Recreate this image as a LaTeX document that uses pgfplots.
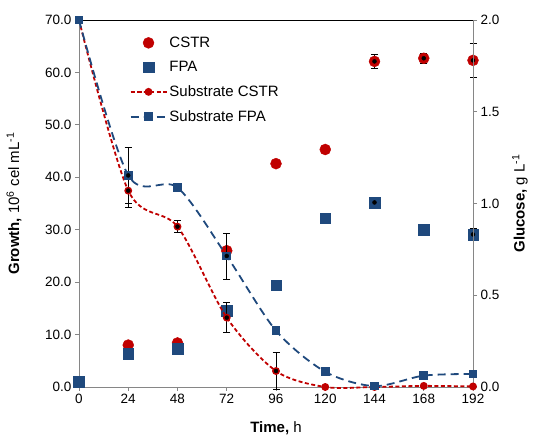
\documentclass[border=0pt]{standalone}
\usepackage{fontspec}
\setmainfont{Liberation Sans}
\usepackage{pgfplots}
\pgfplotsset{compat=1.18}
\definecolor{cstr}{HTML}{C00000}
\definecolor{fpa}{HTML}{1F497D}
\definecolor{axgrey}{HTML}{868686}

\pgfplotsset{
  base/.style={
    width=394pt, height=367pt, scale only axis,
    xmin=0, xmax=192, clip=false,
    axis line style={axgrey, line width=0.9pt},
    tick style={axgrey, line width=0.8pt},
    tick align=outside, major tick length=4pt,
    ticklabel style={font=\fontsize{13.5}{15}\selectfont, black},
    /pgf/number format/assume math mode=true,
    label style={font=\fontsize{15}{17}\selectfont},
    error bars/error bar style={black, line width=0.8pt},
    error bars/error mark options={rotate=90, mark size=3.5pt, black, line width=0.8pt},
  },
  errplot/.style={only marks, mark=none, forget plot,
    error bars/.cd, y dir=both, y explicit},
}

\begin{document}
\begin{tikzpicture}
% left axis: growth
\begin{axis}[base,
  axis y line*=left, axis x line*=bottom,
  ymin=0, ymax=70, ytick={0,10,...,70},
  yticklabel style={/pgf/number format/.cd, fixed, fixed zerofill, precision=1},
  xtick={0,24,...,192},
  xlabel={\textbf{Time,} h},
  xlabel style={at={(axis description cs:0.5,-0.112)}, anchor=center},
  ylabel={\textbf{Growth,} 10\textsuperscript{6} cel mL\textsuperscript{-1}},
  ylabel style={at={(axis description cs:-0.165,0.5)}, anchor=center},
]
\draw[black, line width=0.8pt] (rel axis cs:0,1) -- (rel axis cs:1,1);
\addplot[only marks, mark=*, cstr, mark size=5.5pt] coordinates {
  (0,1.0) (24,8.0) (48,8.4) (72,26.0) (96,42.6) (120,45.3) (144,62.1) (168,62.7) (192,62.3)};
\addplot[only marks, mark=square*, fpa, mark size=5.3pt] coordinates {
  (0,1.0) (24,6.4) (48,7.3) (72,14.6) (96,19.4) (120,32.2) (144,35.2) (168,30.0) (192,29.1)};
\addplot[errplot] coordinates {
  (144,62.1) +- (0,1.4) (168,62.7) +- (0,0.9) (192,62.3) +- (0,3.2)};
\addplot[errplot] coordinates {
  (144,35.2) +- (0,0.8) (192,29.1) +- (0,1.2)};
\end{axis}

% right axis: glucose
\begin{axis}[base,
  axis y line*=right, axis x line=none,
  ymin=0, ymax=2, ytick={0,0.5,...,2},
  yticklabel style={/pgf/number format/.cd, fixed, fixed zerofill, precision=1},
  ylabel={\textbf{Glucose,} g L\textsuperscript{-1}},
  ylabel style={at={(axis description cs:1.119,0.5)}, anchor=center, rotate=0},
  legend image code/.code={\draw[mark repeat=2,mark phase=2] plot coordinates {(0pt,0pt) (18pt,0pt) (36pt,0pt)};},
  legend style={at={(axis description cs:0.128,0.96)}, anchor=north west,
    draw=none, fill=none, font=\fontsize{15}{17}\selectfont,
    row sep=8.5pt, inner sep=0pt, cells={anchor=west}},
]
\addlegendimage{only marks, mark=*, cstr, mark size=5.5pt}
\addlegendentry{CSTR}
\addlegendimage{only marks, mark=square*, fpa, mark size=5.3pt}
\addlegendentry{FPA}
\addplot[cstr, line width=1.8pt, dash pattern=on 4pt off 2.5pt, smooth,
  mark=*, mark size=3pt, mark options={solid}] coordinates {
  (0,2.0) (24,1.07) (48,0.874) (72,0.378) (96,0.087) (120,0.0) (144,0.0) (168,0.006) (192,0.003)};
\addlegendentry{Substrate CSTR}
\addplot[fpa, line width=1.8pt, dash pattern=on 8pt off 5pt, smooth,
  mark=square*, mark size=3.5pt, mark options={solid}] coordinates {
  (0,2.0) (24,1.153) (48,1.087) (72,0.714) (96,0.307) (120,0.083) (144,0.005) (168,0.062) (192,0.071)};
\addlegendentry{Substrate FPA}
\addplot[errplot] coordinates {
  (24,1.07) +- (0,0.09) (48,0.874) +- (0,0.033) (72,0.378) +- (0,0.082) (96,0.087) +- (0,0.10)};
\addplot[errplot] coordinates {
  (24,1.153) +- (0,0.155) (72,0.714) +- (0,0.125)};
\end{axis}
\pgfresetboundingbox
\path (-79pt,-51pt) rectangle (454pt,387pt);
\end{tikzpicture}
\end{document}
